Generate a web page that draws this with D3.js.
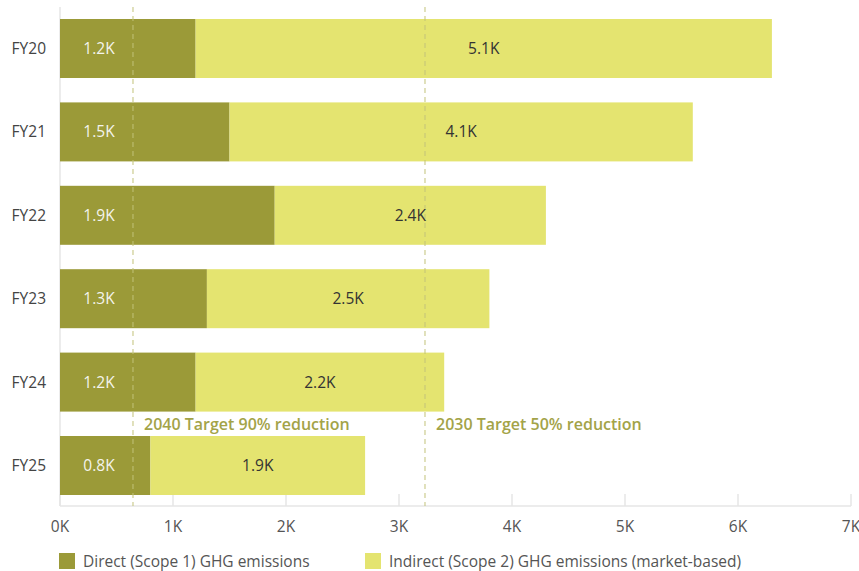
<!DOCTYPE html>
<html><head><meta charset="utf-8">
<script src="https://cdn.jsdelivr.net/npm/d3@7"></script>
<style>
html,body{margin:0;padding:0;background:#fff;}
text{font-family:"Open Sans",sans-serif;}
</style></head>
<body><svg id="c" width="859" height="571"></svg>
<script>
const categories = ["FY20","FY21","FY22","FY23","FY24","FY25"];
const direct = [1.2, 1.5, 1.9, 1.3, 1.2, 0.8];
const indirect = [5.1, 4.1, 2.4, 2.5, 2.2, 1.9];
const xTicks = [0,1,2,3,4,5,6,7];
const targets = [
  {value: 0.646, label: "2040 Target 90% reduction"},
  {value: 3.23, label: "2030 Target 50% reduction"}
];
const seriesNames = ["Direct (Scope 1) GHG emissions", "Indirect (Scope 2) GHG emissions (market-based)"];
const colors = ["#9b9a38", "#e4e470"];

const svg = d3.select("#c");
const x = d3.scaleLinear().domain([0,7]).range([60,851]);
const y = d3.scaleBand().domain(categories).range([9,505]).paddingInner(0.2926).paddingOuter(0.12);
const fs = 15.5;

// axis lines
svg.append("line").attr("x1",60).attr("x2",60).attr("y1",7).attr("y2",506)
  .attr("stroke","#e6e6e6").attr("stroke-width",1.5);
svg.append("line").attr("x1",60).attr("x2",851).attr("y1",506).attr("y2",506)
  .attr("stroke","#e6e6e6").attr("stroke-width",1.5);
svg.selectAll(".tick").data(xTicks).enter().append("line")
  .attr("x1",d=>x(d)).attr("x2",d=>x(d)).attr("y1",494).attr("y2",506)
  .attr("stroke","#e6e6e6").attr("stroke-width",1.5);
svg.selectAll(".tl").data(xTicks).enter().append("text")
  .attr("x",d=>x(d)).attr("y",532).attr("text-anchor","middle")
  .attr("font-size",fs).attr("fill","#555").text(d=>d+"K");

// y labels
svg.selectAll(".yl").data(categories).enter().append("text")
  .attr("x",46).attr("y",d=>y(d)+y.bandwidth()/2+5.5).attr("text-anchor","end")
  .attr("font-size",fs).attr("fill","#444").text(d=>d);

// bars
const rows = categories.map((c,i)=>({c, d:direct[i], n:indirect[i]}));
svg.selectAll(".bd").data(rows).enter().append("rect")
  .attr("x",x(0)).attr("y",r=>y(r.c)).attr("width",r=>x(r.d)-x(0)).attr("height",y.bandwidth())
  .attr("fill",colors[0]);
svg.selectAll(".bi").data(rows).enter().append("rect")
  .attr("x",r=>x(r.d)).attr("y",r=>y(r.c)).attr("width",r=>x(r.d+r.n)-x(r.d)).attr("height",y.bandwidth())
  .attr("fill",colors[1]);

// target lines
svg.selectAll(".tg").data(targets).enter().append("line")
  .attr("x1",t=>x(t.value)).attr("x2",t=>x(t.value)).attr("y1",7).attr("y2",506)
  .attr("stroke","#c2c27a").attr("stroke-width",1).attr("stroke-dasharray","5,4");
svg.selectAll(".tgl").data(targets).enter().append("text")
  .attr("x",t=>x(t.value)+11).attr("y",430).attr("font-size",16).attr("font-weight",600)
  .attr("fill","#a3a348").text(t=>t.label);

// value labels
svg.selectAll(".ld").data(rows).enter().append("text")
  .attr("x",x(0)+39).attr("y",r=>y(r.c)+y.bandwidth()/2+5.5).attr("text-anchor","middle")
  .attr("font-size",fs).attr("fill","#f4f4ec").text(r=>r.d.toFixed(1)+"K");
svg.selectAll(".li").data(rows).enter().append("text")
  .attr("x",r=>(x(r.d)+x(r.d+r.n))/2).attr("y",r=>y(r.c)+y.bandwidth()/2+5.5).attr("text-anchor","middle")
  .attr("font-size",fs).attr("fill","#333").text(r=>r.n.toFixed(1)+"K");

// legend
const lg = [{x:59},{x:365}];
lg.forEach((l,i)=>{
  svg.append("rect").attr("x",l.x).attr("y",553).attr("width",16).attr("height",16).attr("fill",colors[i]);
  svg.append("text").attr("x",l.x+24).attr("y",566.5).attr("font-size",fs).attr("fill","#555").text(seriesNames[i]);
});
</script></body></html>
